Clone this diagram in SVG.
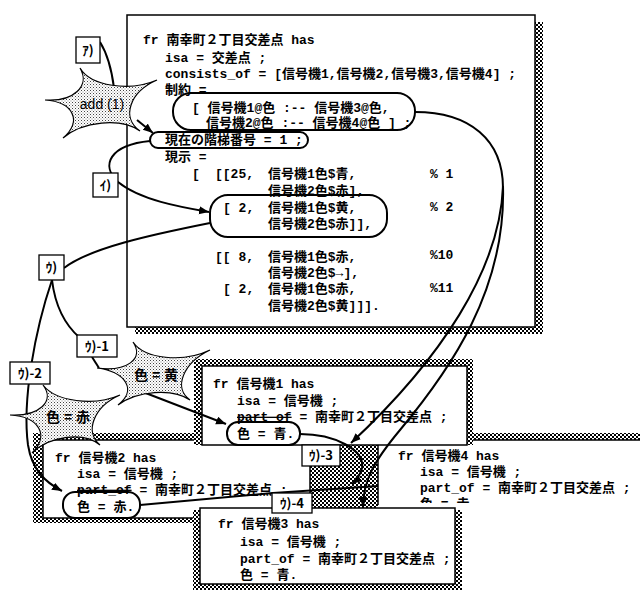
<svg xmlns="http://www.w3.org/2000/svg" width="640" height="590" viewBox="0 0 640 590">
<defs>
<pattern id="chk" width="4" height="4" patternUnits="userSpaceOnUse"><rect width="4" height="4" fill="#fff"/><rect width="2" height="2" fill="#000"/><rect x="2" y="2" width="2" height="2" fill="#000"/></pattern>
<pattern id="dot" width="3" height="3" patternUnits="userSpaceOnUse"><rect width="3" height="3" fill="#fff"/><rect width="1" height="1" fill="#444"/><rect x="1.5" y="1.5" width="1" height="1" fill="#888"/></pattern>
<marker id="ar" markerUnits="userSpaceOnUse" markerWidth="12" markerHeight="10" refX="10" refY="4" orient="auto"><path d="M0,0 L10,4 L0,8 z" fill="#000"/></marker>
<clipPath id="c4"><rect x="378" y="440" width="262" height="63"/></clipPath>
<style>
.t{font-family:"Liberation Mono","Noto Sans CJK JP",monospace;font-size:13px;font-weight:bold;fill:#000}
.lb{font-family:"Noto Sans CJK JP","Liberation Sans",sans-serif;font-size:13px;font-weight:bold;text-anchor:middle;fill:#000}
.st{font-family:"Liberation Sans","Noto Sans CJK JP",sans-serif;font-size:14px;text-anchor:middle;fill:#000}
.box{fill:#fff;stroke:#000;stroke-width:1.5}
.rr{fill:none;stroke:#000;stroke-width:2}
.cn{fill:none;stroke:#000;stroke-width:2}
.star{fill:url(#dot);stroke:#000;stroke-width:1.2}
.lbox{fill:#fff;stroke:#000;stroke-width:1.3}
</style>
</defs>
<rect width="640" height="590" fill="#fff"/>

<g id="main">
<rect x="135" y="22" width="408" height="312" fill="url(#chk)"/>
<rect class="box" x="127" y="15" width="408" height="312"/>
<text class="t" x="143" y="44">fr 南幸町２丁目交差点 has</text>
<text class="t" x="165" y="62">isa = 交差点 ;</text>
<text class="t" x="165" y="78">consists_of = [信号機1,信号機2,信号機3,信号機4] ;</text>
<text class="t" x="165" y="94">制約 =</text>
<text class="t" x="192" y="112">[ 信号機1@色 :-- 信号機3@色,</text>
<text class="t" x="206" y="127">信号機2@色 :-- 信号機4@色 ] ;</text>
<rect class="rr" x="173" y="93" width="242" height="37" rx="18"/>
<text class="t" x="165" y="144">現在の階梯番号 = 1 ;</text>
<rect class="rr" x="150" y="132" width="158" height="16" rx="8"/>
<text class="t" x="165" y="161">現示 =</text>
<text class="t" x="192" y="178">[</text>
<text class="t" x="215" y="178">[[25,</text>
<text class="t" x="268" y="178">信号機1色$青,</text>
<text class="t" x="430" y="178">% 1</text>
<text class="t" x="268" y="195">信号機2色$赤],</text>
<text class="t" x="223" y="212">[ 2,</text>
<text class="t" x="268" y="212">信号機1色$黄,</text>
<text class="t" x="430" y="211">% 2</text>
<text class="t" x="268" y="228">信号機2色$赤]],</text>
<rect class="rr" x="210" y="195" width="177" height="42" rx="18"/>
<text class="t" x="215" y="261">[[ 8,</text>
<text class="t" x="268" y="261">信号機1色$赤,</text>
<text class="t" x="430" y="259">%10</text>
<text class="t" x="268" y="277">信号機2色$→],</text>
<text class="t" x="223" y="293">[ 2,</text>
<text class="t" x="268" y="293">信号機1色$赤,</text>
<text class="t" x="430" y="292">%11</text>
<text class="t" x="268" y="310">信号機2色$黄]]].</text>
</g>

<rect x="310" y="443" width="68" height="67" fill="url(#chk)"/>

<g id="s4">
<rect x="467" y="433" width="173" height="8" fill="url(#chk)"/>
<rect x="378" y="440" width="270" height="80" fill="#fff"/>
<path d="M378,505 L378,440 L640,440" fill="none" stroke="#000" stroke-width="1.5"/>
<g clip-path="url(#c4)">
<text class="t" x="398" y="460">fr 信号機4 has</text>
<text class="t" x="420" y="476">isa = 信号機 ;</text>
<text class="t" x="420" y="492">part_of = 南幸町２丁目交差点 ;</text>
<text class="t" x="420" y="508">色 = 赤.</text>
</g>
</g>

<g id="s2">
<rect x="33" y="433" width="283" height="90" fill="url(#chk)"/>
<rect class="box" x="43" y="440" width="267" height="78"/>
<text class="t" x="55" y="462">fr 信号機2 has</text>
<text class="t" x="77" y="478">isa = 信号機 ;</text>
<text class="t" x="77" y="494"><tspan text-decoration="line-through">part_of</tspan> = 南幸町２丁目交差点 ;</text>
<text class="t" x="77" y="511">色 = 赤.</text>
<rect class="rr" x="63" y="492" width="77" height="26" rx="12"/>
</g>

<g id="s1">
<rect x="194" y="359" width="279" height="86" fill="url(#chk)"/>
<rect class="box" x="202" y="366" width="265" height="79"/>
<text class="t" x="213" y="388">fr 信号機1 has</text>
<text class="t" x="237" y="405">isa = 信号機 ;</text>
<text class="t" x="237" y="421"><tspan text-decoration="line-through">part_of</tspan> = 南幸町２丁目交差点 ;</text>
<text class="t" x="237" y="438">色 = 青.</text>
<rect class="rr" x="227" y="422" width="73" height="23" rx="11"/>
</g>

<g id="s3">
<rect x="193" y="510" width="269" height="80" fill="url(#chk)"/>
<rect class="box" x="200" y="508" width="255" height="76"/>
<text class="t" x="218" y="528">fr 信号機3 has</text>
<text class="t" x="240" y="546">isa = 信号機 ;</text>
<text class="t" x="240" y="563">part_of = 南幸町２丁目交差点 ;</text>
<text class="t" x="240" y="579">色 = 青.</text>
</g>

<g id="connectors">
<path class="cn" d="M100,42 C108,55 112,72 114,88"/>
<path class="cn" d="M137,120 L153,133" marker-end="url(#ar)"/>
<path class="cn" d="M150,141 C110,145 100,165 118,182 C140,200 180,207 209,212" marker-end="url(#ar)"/>
<path class="cn" d="M210,223 C150,235 90,248 64,268"/>
<path class="cn" d="M52,280 C55,305 65,325 80,338"/>
<path class="cn" d="M92,357 L99,368"/>
<path class="cn" d="M143,392 L226,424" marker-end="url(#ar)"/>
<path class="cn" d="M52,280 C35,330 22,400 28,445 C32,470 45,482 62,491" marker-end="url(#ar)"/>
<path class="cn" d="M415,112 C470,112 503,140 503,188"/>
<path class="cn" d="M503,186 C500,270 440,360 351,443" marker-end="url(#ar)"/>
<path class="cn" d="M503,186 C506,290 450,370 400,430 C375,460 363,480 363,507" marker-end="url(#ar)"/>
<path class="cn" d="M300,434 C335,434 365,450 362,468 C360,476 357,480 352,484" marker-end="url(#ar)"/>
<path class="cn" d="M140,505 L273,493 L378,486"/>
</g>

<g id="star-add">
<path class="star" d="M45,100 C73.5,102 90.5,86 80,68 C90.5,86 129.5,92 157,80 C129.5,92 121,117.5 140,131 C121,117.5 82.5,121 63,138 C82.5,121 73.5,102 45,100 Z"/>
<text class="st" x="102" y="109">add (1)</text>
</g>
<g id="star-ki">
<path class="star" d="M97,368 C126.5,372 144.5,359 133,342 C144.5,359 183,363 210,350 C183,363 173,388 190,400 C173,388 137,390.5 118,405 C137,390.5 126.5,372 97,368 Z"/>
<text class="st" x="156" y="380" font-weight="bold" font-size="13">色 = 黄</text>
</g>
<g id="star-aka">
<path class="star" d="M10,415 C39,416.5 55.5,401.5 43,385 C55.5,401.5 94,406.5 120,395 C94,406.5 84,431.5 100,445 C84,431.5 50,435.5 32,453 C50,435.5 39,416.5 10,415 Z"/>
<text class="st" x="68" y="422" font-weight="bold" font-size="13">色 = 赤</text>
</g>

<g id="lbl-a"><rect class="lbox" x="76" y="37" width="24" height="26"/><text class="lb" x="88" y="55">ｱ)</text></g>
<g id="lbl-i"><rect class="lbox" x="93" y="173" width="25" height="24"/><text class="lb" x="105.5" y="190">ｲ)</text></g>
<g id="lbl-u"><rect class="lbox" x="39" y="255" width="25" height="25"/><text class="lb" x="51.5" y="272">ｳ)</text></g>
<g id="lbl-u1"><rect class="lbox" x="77" y="335" width="40" height="22"/><text class="lb" x="97" y="351">ｳ)-1</text></g>
<g id="lbl-u2"><rect class="lbox" x="10" y="362" width="40" height="22"/><text class="lb" x="30" y="378">ｳ)-2</text></g>
<g id="lbl-u3"><rect class="lbox" x="302" y="445" width="38" height="21"/><text class="lb" x="321" y="460">ｳ)-3</text></g>
<g id="lbl-u4"><rect class="lbox" x="272" y="493" width="40" height="20"/><text class="lb" x="292" y="508">ｳ)-4</text></g>
</svg>
